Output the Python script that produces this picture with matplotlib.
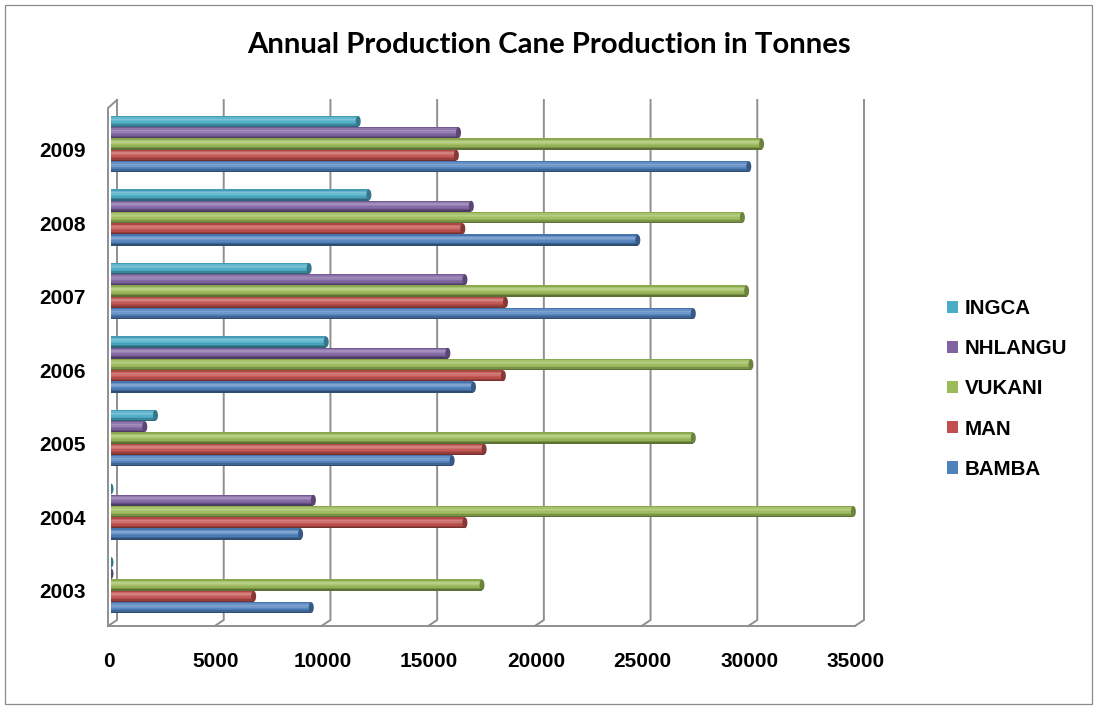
import numpy as np
import matplotlib
matplotlib.use("Agg")
import matplotlib.pyplot as plt
from matplotlib.patches import Patch, Ellipse, Rectangle
from matplotlib.transforms import ScaledTranslation
from matplotlib.colors import to_rgb

# ---------------- data ----------------
years = ["2003", "2004", "2005", "2006", "2007", "2008", "2009"]
series_names = ["BAMBA", "MAN", "VUKANI", "NHLANGU", "INGCA"]
BAMBA = [9500, 9000, 16100, 17100, 27400, 24800, 30000]
MAN = [6800, 16700, 17600, 18500, 18600, 16600, 16300]
VUKANI = [17500, 34900, 27400, 30100, 29900, 29700, 30600]
NHLANGU = [100, 9600, 1700, 15900, 16700, 17000, 16400]
INGCA = [100, 100, 2200, 10200, 9400, 12200, 11700]
x_ticks = [0, 5000, 10000, 15000, 20000, 25000, 30000, 35000]
title = "Annual Production Cane Production in Tonnes"

colors = {"BAMBA": "#4F81BD", "MAN": "#C0504D", "VUKANI": "#9BBB59",
          "NHLANGU": "#8064A2", "INGCA": "#4BACC6"}
values = {"BAMBA": BAMBA, "MAN": MAN, "VUKANI": VUKANI,
          "NHLANGU": NHLANGU, "INGCA": INGCA}

W, H = 1097, 709
DPI = 100
fig = plt.figure(figsize=(W / DPI, H / DPI), dpi=DPI)
fig.patch.set_facecolor("white")

# main axes = "bar plane" of the 3D box
ax_l, ax_r, ax_t, ax_b = 111, 858, 104, 624
ax = fig.add_axes([ax_l / W, 1 - ax_b / H, (ax_r - ax_l) / W, (ax_b - ax_t) / H])
ax.set_facecolor("none")
ax.set_zorder(2)
ax.set_xlim(0, 35000)
ymin, ymax = -0.531, 6.544
ax.set_ylim(ymin, ymax)
for s in ax.spines.values():
    s.set_visible(False)

# overlay in pixel coordinates for the 3D box lines
ov = fig.add_axes([0, 0, 1, 1])
ov.set_zorder(1)
ov.set_xlim(0, W)
ov.set_ylim(H, 0)
ov.axis("off")


def px(x, y, dx=0.0, dy=0.0):
    X, Y = ax.transData.transform((x, y))
    return X + dx, H - Y + dy


back = (6, -4)
front = (-3, 2)
grid_c = "#8f8f8f"
glw = 1.4
for t in x_ticks:
    x1, y1 = px(t, ymax, *back)
    x2, y2 = px(t, ymin, *back)
    x3, y3 = px(t, ymin, *front)
    ov.plot([x1, x2, x3], [y1, y2, y3], color=grid_c, lw=glw, solid_joinstyle="miter")
# front floor edge
fa = px(0, ymin, *front)
fb = px(35000, ymin, *front)
ov.plot([fa[0], fb[0]], [fa[1], fb[1]], color=grid_c, lw=glw)
# front left edge + slant to back top
ft = px(0, ymax, *front)
bt = px(0, ymax, *back)
ov.plot([fa[0], ft[0], bt[0]], [fa[1], ft[1] + 2, bt[1]], color=grid_c, lw=glw,
        solid_joinstyle="miter")

# outer border
ov.add_patch(Rectangle((4.5, 4.5), W - 10, H - 10, fill=False, ec="#8a8a8a", lw=0.9))


def shade(c, f):
    c = np.array(to_rgb(c))
    if f >= 0:
        return tuple(c + (1 - c) * f)
    return tuple(c * (1 + f))


profile = [-0.40, -0.22, -0.05, 0.05, 0.18, 0.28, 0.12, -0.10]
h = 0.1537
n = len(profile)
ypos = np.arange(len(years))
cap_w = 5 * 35000 / (ax_r - ax_l)
for si, name in enumerate(series_names):
    vals = np.array(values[name], dtype=float)
    base = colors[name]
    yc = ypos + (si - 2) * h
    body = np.maximum(vals - cap_w / 2, 0)
    for k, f in enumerate(profile):
        ax.barh(yc - h / 2 + (k + 0.5) * h / n, body, height=h / n * 1.02, left=0,
                color=shade(base, f), edgecolor="none", zorder=3)
    for v, y in zip(body, yc):
        ax.add_patch(Ellipse((v, y), width=cap_w, height=h * 0.95,
                             facecolor=shade(base, -0.30), edgecolor="none", zorder=4))

# ticks
ax.set_yticks(ypos)
ax.set_yticklabels(years)
ax.set_xticks(x_ticks)
ax.set_xticklabels([str(t) for t in x_ticks])
ax.tick_params(axis="both", length=0)
ax.tick_params(axis="y", pad=18)
ax.tick_params(axis="x", pad=20)
for lab in ax.get_yticklabels() + ax.get_xticklabels():
    lab.set_fontfamily(["Liberation Sans", "DejaVu Sans"])
    lab.set_fontweight("bold")
    lab.set_fontsize(15)
for tk in ax.yaxis.get_major_ticks():
    tk.label1.set_transform(tk.label1.get_transform() +
                            ScaledTranslation(0, -6 / DPI, fig.dpi_scale_trans))
for tk in ax.xaxis.get_major_ticks():
    tk.label1.set_transform(tk.label1.get_transform() +
                            ScaledTranslation(-2 / DPI, 0, fig.dpi_scale_trans))

# legend
handles = [Patch(facecolor=colors[nm], edgecolor="none") for nm in series_names[::-1]]
leg = fig.legend(handles, series_names[::-1], loc="upper left",
                 bbox_to_anchor=(947 / W, 1 - 299 / H), frameon=False,
                 borderpad=0, borderaxespad=0, handlelength=0.55, handleheight=0.55,
                 handletextpad=0.3, labelspacing=1.03,
                 prop={"family": ["Liberation Sans", "DejaVu Sans"], "weight": "bold",
                       "size": 14.8})

# title
tt = fig.text(549 / W, 1 - 53 / H, title, ha="center", va="baseline",
              fontfamily=["Lato", "DejaVu Sans"], fontweight="bold", fontsize=20)
fig.canvas.draw()
w = tt.get_window_extent().width
tt.set_fontsize(20 * 606 / w)

fig.savefig("out.png", dpi=DPI, facecolor="white")
